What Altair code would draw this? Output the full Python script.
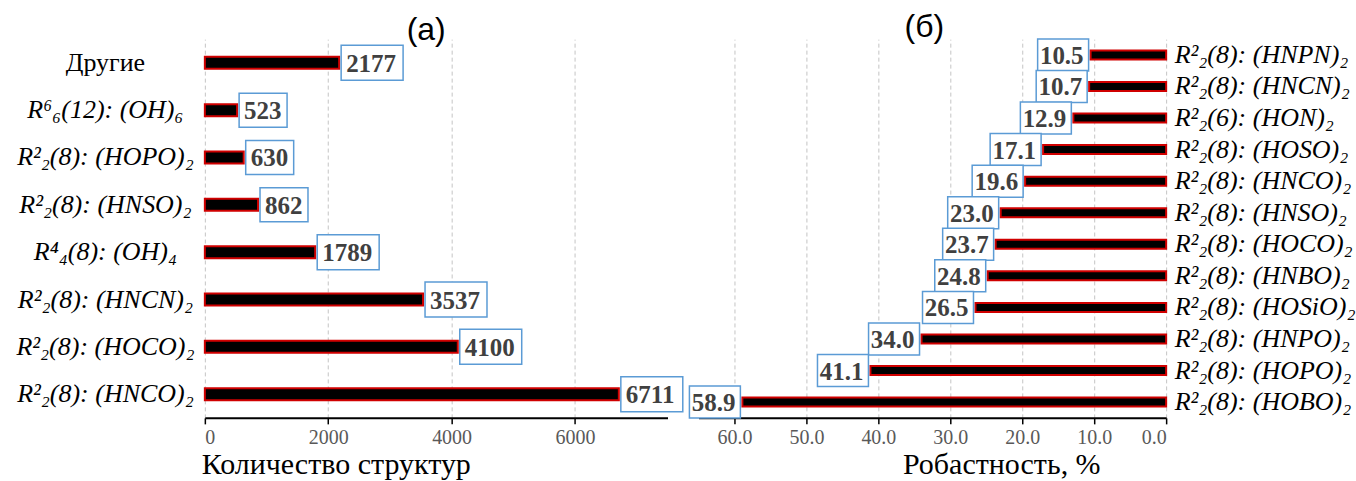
import altair as alt
import pandas as pd

# ---------------- data ----------------
left_labels = [
    "Другие",
    "R⁶₆(12): (OH)₆",
    "R²₂(8): (HOPO)₂",
    "R²₂(8): (HNSO)₂",
    "R⁴₄(8): (OH)₄",
    "R²₂(8): (HNCN)₂",
    "R²₂(8): (HOCO)₂",
    "R²₂(8): (HNCO)₂",
]
left_values = [2177, 523, 630, 862, 1789, 3537, 4100, 6711]
left_ticks = [0, 2000, 4000, 6000]

right_labels = [
    "R²₂(8): (HNPN)₂",
    "R²₂(8): (HNCN)₂",
    "R²₂(6): (HON)₂",
    "R²₂(8): (HOSO)₂",
    "R²₂(8): (HNCO)₂",
    "R²₂(8): (HNSO)₂",
    "R²₂(8): (HOCO)₂",
    "R²₂(8): (HNBO)₂",
    "R²₂(8): (HOSiO)₂",
    "R²₂(8): (HNPO)₂",
    "R²₂(8): (HOPO)₂",
    "R²₂(8): (HOBO)₂",
]
right_values = [10.5, 10.7, 12.9, 17.1, 19.6, 23.0, 23.7, 24.8, 26.5, 34.0, 41.1, 58.9]
right_ticks = [0, 10, 20, 30, 40, 50, 60]

dl = pd.DataFrame({"cat": left_labels, "val": left_values})
dl["txt"] = dl["val"].astype(str)
dl["n"] = dl["txt"].str.len().astype(str)

dr = pd.DataFrame({"cat": right_labels, "val": right_values})
dr["txt"] = dr["val"].map(lambda v: f"{v:.1f}")

# ---------------- styles ----------------
SERIF = "Liberation Serif"
SANS = "Liberation Sans"
BAR_FILL = "#000000"
BAR_STROKE = "#d00000"
BOX = "#5b9bd5"
VAL_COLOR = "#404040"
TICK_COLOR = "#595959"

BOX_L3 = "M2,-17H50V17H2Z"
BOX_L4 = "M2,-17.5H64V17.5H2Z"
BOX_R4 = "M-2,-16H-53V16H-2Z"


def x_axis(ticks, fmt, title, title_x):
    return alt.Axis(
        values=ticks,
        format=fmt,
        grid=True,
        gridDash=[4, 3],
        gridColor="#c4c4c4",
        gridWidth=1,
        domainColor="#000000",
        domainWidth=2,
        ticks=True,
        tickColor="#000000",
        tickSize=6,
        tickWidth=1.5,
        labelFont=SERIF,
        labelFontSize=20,
        labelColor=TICK_COLOR,
        labelPadding=4,
        title=title,
        titleFont=SERIF,
        titleFontSize=30,
        titleFontWeight="normal",
        titleColor="#000000",
        titleAlign="center",
        titleBaseline="alphabetic",
        titleX=title_x,
        titleY=56,
    )


# ---------------- left panel ----------------
yl = alt.Y(
    "cat:N",
    sort=left_labels,
    title=None,
    scale=alt.Scale(paddingInner=0, paddingOuter=0),
    axis=alt.Axis(
        orient="left",
        ticks=False,
        domain=False,
        labelAlign="center",
        labelPadding=100,
        labelLimit=400,
        labelFont=SERIF,
        labelFontSize=26,
        labelColor="#000000",
        labelFontStyle={
            "condition": {"test": "datum.value === 'Другие'", "value": "normal"},
            "value": "italic",
        },
    ),
)
xl = alt.X(
    "val:Q",
    scale=alt.Scale(domain=[0, 7500], nice=False),
    axis=x_axis(left_ticks, "d", "Количество структур", 131),
)

base_l = alt.Chart(dl).encode(x=xl, y=yl)
bars_l = base_l.mark_bar(size=12, fill=BAR_FILL, stroke=BAR_STROKE, strokeWidth=2)
boxes_l = base_l.mark_point(
    filled=True, fill="white", stroke=BOX, strokeWidth=1.5, opacity=1
).encode(
    shape=alt.Shape(
        "n:N", scale=alt.Scale(domain=["3", "4"], range=[BOX_L3, BOX_L4]), legend=None
    ),
    size=alt.value(4),
)
text_l = base_l.mark_text(
    align="left", baseline="middle", dx=7, dy=1,
    font=SERIF, fontSize=25, fontWeight="bold", color=VAL_COLOR,
).encode(text="txt:N")

left = alt.layer(bars_l, boxes_l, text_l).properties(
    width=463,
    height=379,
    title=alt.TitleParams(
        "(a)", font=SANS, fontSize=32, fontWeight="normal", color="#000000",
        anchor="middle", offset=-8, dx=-10,
    ),
)

# ---------------- right panel ----------------
yr = alt.Y(
    "cat:N",
    sort=right_labels,
    title=None,
    scale=alt.Scale(paddingInner=0, paddingOuter=0),
    axis=alt.Axis(
        orient="right",
        ticks=False,
        domain=False,
        labelAlign="left",
        labelPadding=8,
        labelLimit=400,
        labelFont=SERIF,
        labelFontSize=26,
        labelFontStyle="italic",
        labelColor="#000000",
    ),
)
xr = alt.X(
    "val:Q",
    scale=alt.Scale(domain=[0, 65], reverse=True, nice=False),
    axis=x_axis(right_ticks, ".1f", "Робастность, %", 303),
)

base_r = alt.Chart(dr).encode(x=xr, y=yr)
bars_r = base_r.mark_bar(size=9, fill=BAR_FILL, stroke=BAR_STROKE, strokeWidth=2)
boxes_r = base_r.mark_point(
    filled=True, fill="white", stroke=BOX, strokeWidth=1.5, opacity=1, shape=BOX_R4
).encode(size=alt.value(4))
text_r = base_r.mark_text(
    align="right", baseline="middle", dx=-7, dy=1,
    font=SERIF, fontSize=25, fontWeight="bold", color=VAL_COLOR,
).encode(text="txt:N")

right = alt.layer(bars_r, boxes_r, text_r).properties(
    width=468,
    height=379,
    title=alt.TitleParams(
        "(б)", font=SANS, fontSize=32, fontWeight="normal", color="#000000",
        anchor="middle", offset=-8, dx=-8,
    ),
)

chart = (
    alt.hconcat(left, right, spacing=31, bounds="flush")
    .resolve_scale(x="independent", y="independent")
    .properties(padding={"left": 15, "top": 10, "right": 0, "bottom": 0}, background="white")
    .configure_view(strokeWidth=0)
    .configure_axis(labelFont=SERIF, titleFont=SERIF)
)

chart.save("out.html", embed_options={"renderer": "svg", "actions": False})
